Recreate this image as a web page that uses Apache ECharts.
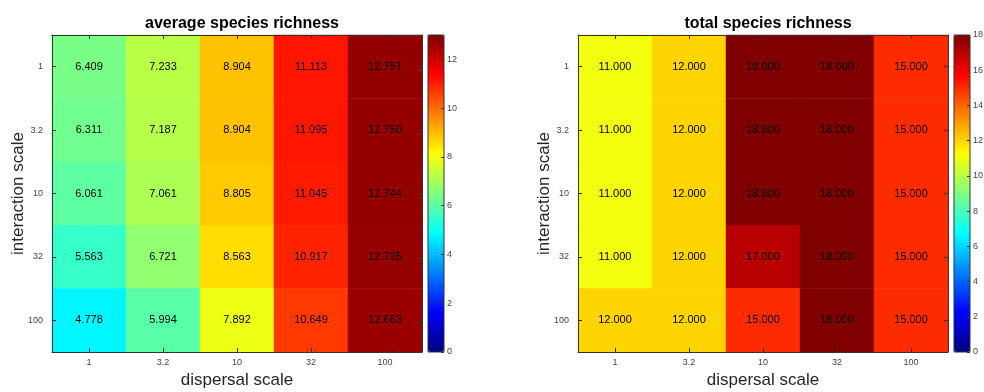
<!DOCTYPE html>
<html>
<head>
<meta charset="utf-8">
<script src="https://cdn.jsdelivr.net/npm/echarts@6/dist/echarts.min.js"></script>
<style>
  html, body { margin: 0; padding: 0; background: #fff; }
  #main { width: 984px; height: 392px; }
</style>
</head>
<body>
<div id="main"></div>
<script>
// tick labels
var dispersal = ['1', '3.2', '10', '32', '100'];
var interaction = ['1', '3.2', '10', '32', '100'];

// rows = interaction scale (1 .. 100), columns = dispersal scale (1 .. 100)
var avgRichness = [
  [6.409, 7.233, 8.904, 11.113, 12.751],
  [6.311, 7.187, 8.904, 11.095, 12.750],
  [6.061, 7.061, 8.805, 11.045, 12.744],
  [5.563, 6.721, 8.563, 10.917, 12.725],
  [4.778, 5.994, 7.892, 10.649, 12.663]
];
var totalRichness = [
  [11, 12, 18, 18, 15],
  [11, 12, 18, 18, 15],
  [11, 12, 18, 18, 15],
  [11, 12, 17, 18, 15],
  [12, 12, 15, 18, 15]
];
var avgMax = 13;
var totalMax = 18;

var jet = ['#000080', '#0000ff', '#0080ff', '#00ffff', '#80ff80',
           '#ffff00', '#ff8000', '#ff0000', '#800000'];

function toCells(m) {
  var out = [];
  for (var r = 0; r < m.length; r++)
    for (var c = 0; c < m[r].length; c++)
      out.push([c, r, m[r][c]]);
  return out;
}

var font = 'Liberation Sans, Arial, Helvetica, sans-serif';
var lineCol = '#333';
var tickCol = '#444';

function mainAxes(gi, xName, yName) {
  var line = { show: true, lineStyle: { color: lineCol, width: 1 } };
  var tick = { show: true, inside: true, length: 4, alignWithLabel: true, lineStyle: { color: lineCol } };
  return {
    x: [
      { gridIndex: gi, type: 'category', data: dispersal, position: 'bottom', z: 5,
        axisLine: line, axisTick: tick, splitLine: { show: false },
        axisLabel: { color: tickCol, fontSize: 9, fontFamily: font, margin: 6 },
        name: xName, nameLocation: 'middle', nameGap: 18,
        nameTextStyle: { color: '#262626', fontSize: 17, fontFamily: font } },
      { gridIndex: gi, type: 'category', data: dispersal, position: 'top', z: 5,
        axisLine: line, axisTick: tick, axisLabel: { show: false } }
    ],
    y: [
      { gridIndex: gi, type: 'category', data: interaction, inverse: true, position: 'left', z: 5,
        axisLine: line, axisTick: tick, splitLine: { show: false },
        axisLabel: { color: tickCol, fontSize: 9, fontFamily: font, margin: 9 },
        name: yName, nameLocation: 'middle', nameGap: 25, nameMoveOverlap: false,
        nameTextStyle: { color: '#262626', fontSize: 17, fontFamily: font } },
      { gridIndex: gi, type: 'category', data: interaction, inverse: true, position: 'right', z: 5,
        axisLine: line, axisTick: tick, axisLabel: { show: false } }
    ]
  };
}

// colour bar frame + tick labels
function barAxes(gi, max) {
  return {
    x: [
      { gridIndex: gi, type: 'value', min: 0, max: 1, show: false,
        axisLine: { onZero: false } }
    ],
    y: [
      { gridIndex: gi, type: 'value', min: 0, max: max, interval: 2, position: 'right', z: 10,
        axisLine: { show: false, onZero: false }, splitLine: { show: false },
        axisTick: { show: true, inside: true, length: 3, lineStyle: { color: lineCol } },
        axisLabel: { color: tickCol, fontSize: 9, fontFamily: font, margin: 3,
          showMaxLabel: max % 2 === 0 } }
    ]
  };
}

var a0 = mainAxes(0, 'dispersal scale', 'interaction scale');
var b0 = barAxes(1, avgMax);
var a1 = mainAxes(2, 'dispersal scale', 'interaction scale');
var b1 = barAxes(3, totalMax);

var cellLabel = {
  show: true, color: '#000', fontSize: 11, fontFamily: font,
  formatter: function (p) { return p.value[2].toFixed(3); }
};

var option = {
  animation: false,
  backgroundColor: '#fff',
  title: [
    { text: 'average species richness', left: 237, top: 11, textAlign: 'center',
      textStyle: { fontSize: 16, fontWeight: 'bold', color: '#000', fontFamily: font } },
    { text: 'total species richness', left: 763, top: 11, textAlign: 'center',
      textStyle: { fontSize: 16, fontWeight: 'bold', color: '#000', fontFamily: font } }
  ],
  grid: [
    { left: 52, top: 35, width: 370, height: 317, outerBoundsMode: 'none' },
    { left: 428, top: 35, width: 16, height: 317, show: true, z: 10, outerBoundsMode: 'none',
      backgroundColor: 'transparent', borderColor: lineCol, borderWidth: 1 },
    { left: 578, top: 35, width: 370, height: 317, outerBoundsMode: 'none' },
    { left: 954, top: 35, width: 16, height: 317, show: true, z: 10, outerBoundsMode: 'none',
      backgroundColor: 'transparent', borderColor: lineCol, borderWidth: 1 }
  ],
  xAxis: a0.x.concat(b0.x, a1.x, b1.x),
  yAxis: a0.y.concat(b0.y, a1.y, b1.y),
  visualMap: [
    { type: 'continuous', seriesIndex: 0, min: 0, max: avgMax, calculable: false,
      orient: 'vertical', left: 428, top: 35, itemWidth: 16, itemHeight: 317,
      padding: 0, z: 1, inRange: { color: jet } },
    { type: 'continuous', seriesIndex: 1, min: 0, max: totalMax, calculable: false,
      orient: 'vertical', left: 954, top: 35, itemWidth: 16, itemHeight: 317,
      padding: 0, z: 1, inRange: { color: jet } }
  ],
  series: [
    { type: 'heatmap', xAxisIndex: 0, yAxisIndex: 0, data: toCells(avgRichness), label: cellLabel },
    { type: 'heatmap', xAxisIndex: 3, yAxisIndex: 3, data: toCells(totalRichness), label: cellLabel }
  ]
};

var myChart = echarts.init(document.getElementById('main'));
myChart.setOption(option);
</script>
</body>
</html>
